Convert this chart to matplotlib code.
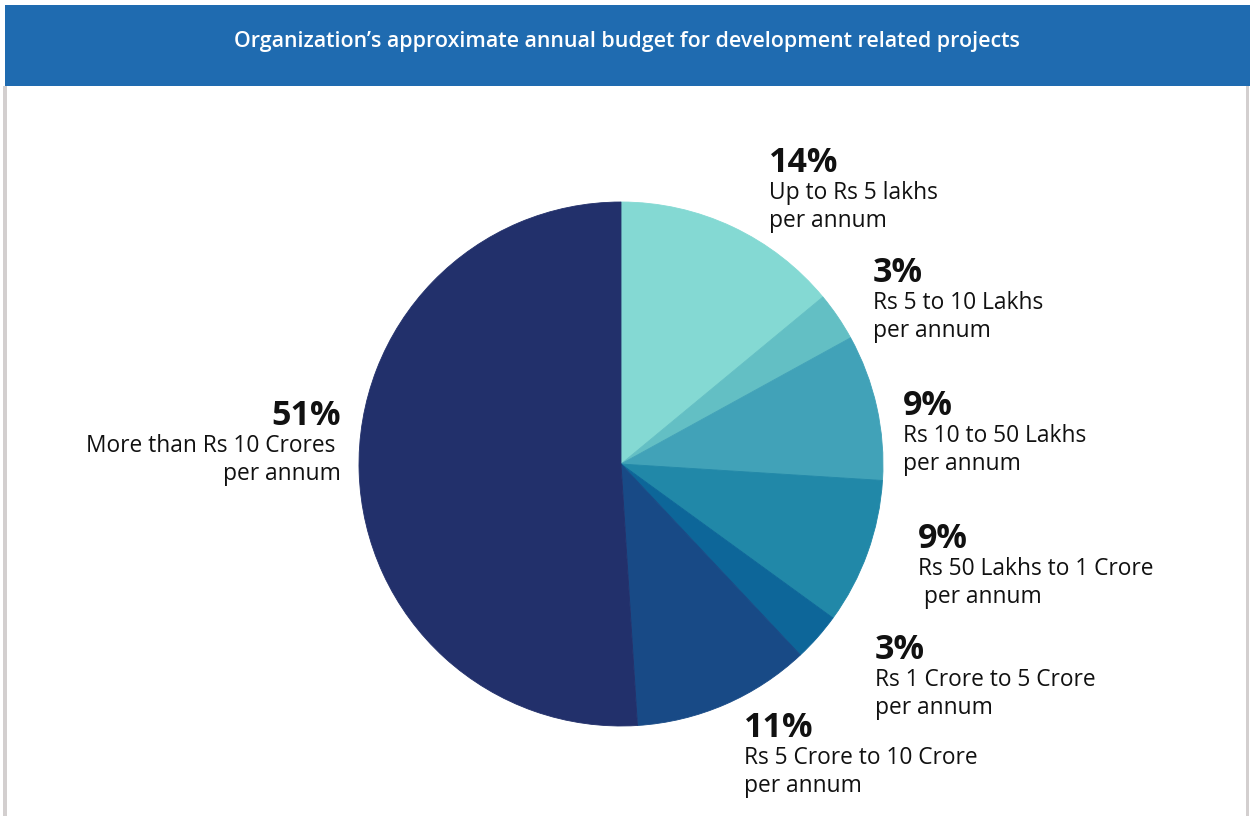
import matplotlib.pyplot as plt
from matplotlib.patches import Rectangle

# --- data ---
shares = [14, 3, 9, 9, 3, 11, 51]
ranges = ["Up to Rs 5 lakhs", "Rs 5 to 10 Lakhs", "Rs 10 to 50 Lakhs",
          "Rs 50 Lakhs to 1 Crore", "Rs 1 Crore to 5 Crore",
          "Rs 5 Crore to 10 Crore", "More than Rs 10 Crores "]
second_lines = ["per annum", "per annum", "per annum", " per annum",
                "per annum", "per annum", "per annum"]
colors = ["#84d9d3", "#63bfc4", "#41a2b8", "#2188a8", "#0d6699", "#184a86", "#22306b"]
title = "Organization\u2019s approximate annual budget for development related projects"

# label anchors in pixels (x, baseline of the percent line), and alignment
label_pos = [(769, 172, "left"), (873, 282, "left"), (903, 415, "left"),
             (918, 548, "left"), (875, 659, "left"), (744, 737, "left"),
             (341, 425, "right")]

W, H = 1254, 816
plt.rcParams['font.family'] = ['Open Sans', 'DejaVu Sans']

fig = plt.figure(figsize=(W / 100, H / 100), dpi=100)
fig.patch.set_facecolor("white")

def fx(x):
    return x / W

def fy(y):
    return 1 - y / H

# header band + side borders
fig.add_artist(Rectangle((fx(5), fy(86)), fx(1250) - fx(5), fy(5) - fy(86),
                         transform=fig.transFigure, color="#1f6bb0", lw=0))
for xb in (5, 1247):
    fig.add_artist(Rectangle((fx(xb) - 1.5 / W, 0), 3 / W, fy(86),
                             transform=fig.transFigure, color="#d3cfcf", lw=0))
fig.text(fx(627), fy(42), title, color="white", fontsize=15.4,
         fontweight="semibold", ha="center", va="center")

# pie
cx, cy, r = 621, 464, 262
ax = fig.add_axes([fx(cx - r), fy(cy + r), 2 * r / W, 2 * r / H])
ax.pie(shares, colors=colors, startangle=90, counterclock=False, radius=1,
       wedgeprops=dict(linewidth=0.6))
for w, c in zip(ax.patches, colors):
    w.set_edgecolor(c)
ax.set_xlim(-1, 1)
ax.set_ylim(-1, 1)
ax.set_axis_off()

# labels
txt = "#111111"
for s, l1, l2, (x, y, ha) in zip(shares, ranges, second_lines, label_pos):
    fig.text(fx(x), fy(y), f"{s}%", fontsize=24.5, fontweight="bold",
             color=txt, ha=ha, va="baseline")
    fig.text(fx(x), fy(y + 27), l1, fontsize=16.4, color=txt, ha=ha, va="baseline")
    fig.text(fx(x), fy(y + 55), l2, fontsize=16.4, color=txt, ha=ha, va="baseline")

fig.savefig("out.png", dpi=100)
